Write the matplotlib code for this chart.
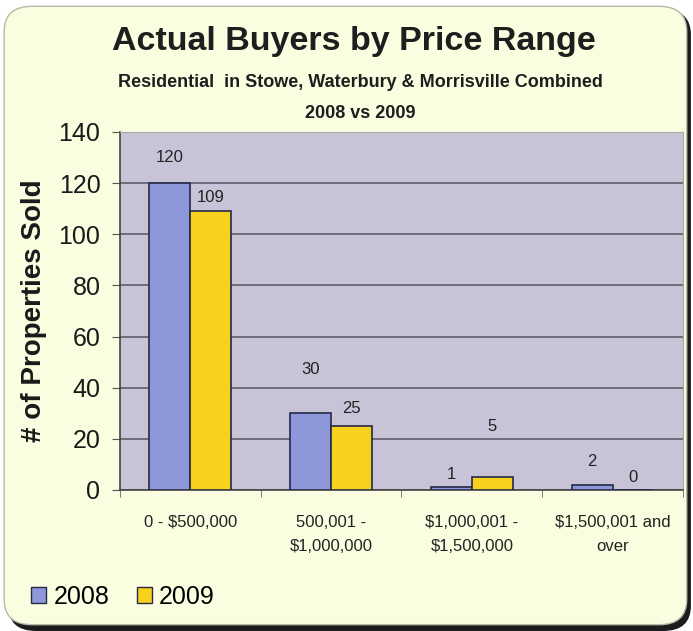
import matplotlib
matplotlib.use('Agg')
import matplotlib.pyplot as plt
from matplotlib.patches import FancyBboxPatch, Patch
import numpy as np

categories = ['0 - $500,000', '500,001 -\n$1,000,000', '$1,000,001 -\n$1,500,000', '$1,500,001 and\nover']
sold_2008 = [120, 30, 1, 2]
sold_2009 = [109, 25, 5, 0]
# how far above each bar the value label sits (data units)
lift_2008 = [10, 17, 5, 9]
lift_2009 = [5.5, 7, 20, 4.7]

narrow = ['Liberation Sans Narrow', 'Liberation Sans', 'DejaVu Sans']
plain = ['Liberation Sans', 'DejaVu Sans']

fig = plt.figure(figsize=(6.93, 6.31), dpi=100)
fig.patch.set_facecolor('white')

# card background with dark shadow
shadow = FancyBboxPatch((0.012, 0.0), 0.985, 0.985, boxstyle='round,pad=0,rounding_size=0.04',
                        transform=fig.transFigure, facecolor='#1c1c1c', edgecolor='none', zorder=-3)
card = FancyBboxPatch((0.006, 0.01), 0.985, 0.98, boxstyle='round,pad=0,rounding_size=0.04',
                      transform=fig.transFigure, facecolor='#fafde0', edgecolor='#b8b8a8', lw=1, zorder=-2)
fig.patches.extend([shadow, card])

ax = fig.add_axes([0.173, 0.2235, 0.8125, 0.5675])
ax.set_facecolor('#c9c3d7')

x = np.arange(len(categories))
w = 0.29
ax.bar(x - w / 2, sold_2008, w, color='#8e97da', edgecolor='#252a45', lw=1.2, zorder=3, label='2008')
ax.bar(x + w / 2, sold_2009, w, color='#f6d21f', edgecolor='#252a45', lw=1.2, zorder=3, label='2009')

for i in range(len(categories)):
    ax.text(x[i] - w / 2, sold_2008[i] + lift_2008[i], str(sold_2008[i]), ha='center', va='center',
            fontsize=12, family=narrow, color='#222222')
    ax.text(x[i] + w / 2, sold_2009[i] + lift_2009[i], str(sold_2009[i]), ha='center', va='center',
            fontsize=12, family=narrow, color='#222222')

ax.set_xlim(-0.5, len(categories) - 0.5)
ax.set_ylim(0, 140)
ax.set_yticks(np.arange(0, 141, 20))
ax.yaxis.grid(True, color='#55555f', lw=1.1, zorder=0)
ax.set_axisbelow(True)
for lbl in ax.get_yticklabels():
    lbl.set_family(plain)
ax.tick_params(axis='y', labelsize=18, length=6, color='#555555', labelcolor='#1a1a1a', pad=8)

ax.set_xticks(x)
ax.set_xticklabels(categories, fontsize=12, family=narrow, color='#222222', linespacing=1.75)
ax.set_xticks(np.arange(-0.5, len(categories)), minor=True)
ax.tick_params(axis='x', which='major', length=0, pad=18)
ax.tick_params(axis='x', which='minor', length=5, color='#666666')

for s in ['top', 'right']:
    ax.spines[s].set_color('#a8a8a8')
    ax.spines[s].set_linewidth(0.8)
for s in ['left', 'bottom']:
    ax.spines[s].set_color('#444444')
    ax.spines[s].set_linewidth(1.2)

ax.set_ylabel('# of Properties Sold', fontsize=20, fontweight='bold', family=plain, color='#1a1a1a', labelpad=8)

fig.text(0.51, 0.935, 'Actual Buyers by Price Range', ha='center', va='center',
         fontsize=24.5, fontweight='bold', family=narrow, color='#1e1e1e')
fig.text(0.52, 0.869, 'Residential  in Stowe, Waterbury & Morrisville Combined', ha='center', va='center',
         fontsize=13, fontweight='bold', family=narrow, color='#1e1e1e')
fig.text(0.52, 0.82, '2008 vs 2009', ha='center', va='center',
         fontsize=13, fontweight='bold', family=narrow, color='#1e1e1e')

handles = [Patch(facecolor='#8e97da', edgecolor='#252a45'), Patch(facecolor='#f6d21f', edgecolor='#252a45')]
fig.legend(handles, ['2008', '2009'], loc='center left', bbox_to_anchor=(0.012, 0.054), ncol=2,
           frameon=False, prop={'family': plain, 'size': 18}, handlelength=0.6, handleheight=0.6,
           handletextpad=0.3, columnspacing=1.1)

fig.savefig('out.png', dpi=100)
